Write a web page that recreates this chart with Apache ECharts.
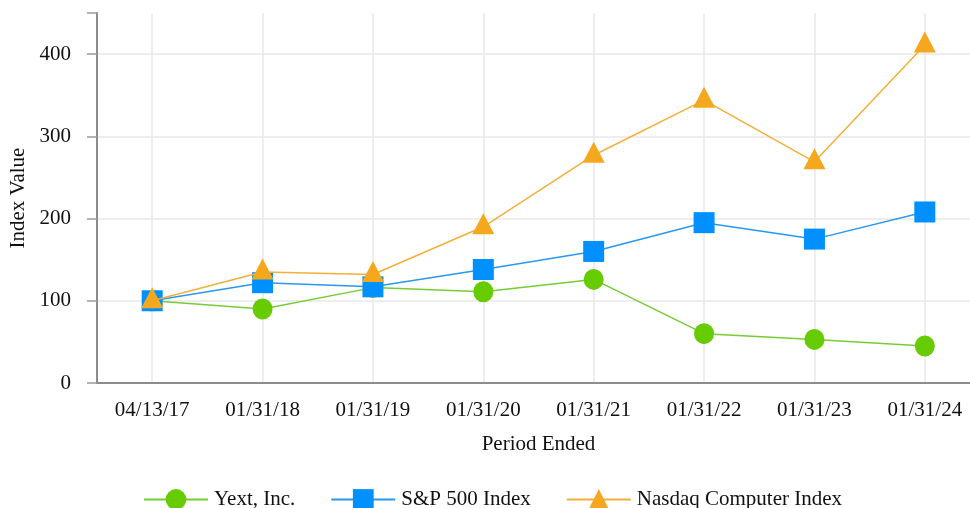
<!DOCTYPE html>
<html>
<head>
<meta charset="utf-8">
<script src="https://cdn.jsdelivr.net/npm/echarts@6/dist/echarts.min.js"></script>
<style>html,body{margin:0;padding:0;background:#fff}#c{width:970px;height:508px}</style>
</head>
<body>
<div id="c"></div>
<script>
const categories = ['04/13/17','01/31/18','01/31/19','01/31/20','01/31/21','01/31/22','01/31/23','01/31/24'];
const yextValues = [100, 90, 116, 111, 126, 60, 53, 45];
const spValues = [100, 122, 117, 138, 160, 195, 175, 208];
const nasdaqValues = [100, 135, 132, 190, 277, 344, 269, 411];
const yTickLabels = ['0','100','200','300','400'];
const seriesNames = ['Yext, Inc.', 'S&P 500 Index', 'Nasdaq Computer Index'];

const font = 'Liberation Serif';
const chart = echarts.init(document.getElementById('c'));
chart.setOption({
  animation: false,
  textStyle: {fontFamily: font},
  grid: {left: 97, width: 883, top: 13, height: 370, containLabel: false, outerBoundsMode: 'none'},
  legend: {
    data: seriesNames,
    left: 138, top: 484,
    itemWidth: 64, itemHeight: 26, itemGap: 35,
    textStyle: {fontFamily: font, fontSize: 21, color: '#111', padding: [0, 0, 0, 1]}
  },
  xAxis: {
    type: 'category',
    data: categories,
    boundaryGap: true,
    name: 'Period Ended',
    nameLocation: 'middle',
    nameGap: 51,
    nameTextStyle: {fontFamily: font, fontSize: 21, color: '#111'},
    axisLine: {lineStyle: {color: '#8c8c8c', width: 2}},
    axisTick: {alignWithLabel: true, length: 10, lineStyle: {color: '#999', width: 1.5}},
    axisLabel: {fontFamily: font, fontSize: 21, color: '#111', margin: 17},
    splitLine: {show: true, alignWithLabel: true, lineStyle: {color: '#e8e8e8', width: 1.5}}
  },
  yAxis: {
    type: 'value',
    min: 0, max: 450, interval: 100,
    name: 'Index Value',
    nameLocation: 'middle',
    nameGap: 68,
    nameTextStyle: {fontFamily: font, fontSize: 21, color: '#111'},
    axisLine: {show: true, lineStyle: {color: '#8c8c8c', width: 2}},
    axisTick: {show: true, length: 10, lineStyle: {color: '#999', width: 1.5}},
    axisLabel: {fontFamily: font, fontSize: 21, color: '#111', margin: 26,
      formatter: v => { const s = String(v); return yTickLabels.indexOf(s) >= 0 ? s : ''; }},
    splitLine: {show: true, lineStyle: {color: ['#e8e8e8','#e8e8e8','#e8e8e8','#e8e8e8','#e8e8e8','rgba(0,0,0,0)'], width: 1.5}}
  },
  series: [
    {name: seriesNames[0], type: 'line', data: yextValues, symbol: 'circle', symbolSize: [20, 21],
     color: '#66cc00', lineStyle: {width: 1.5, color: '#77cc33'}, itemStyle: {color: '#66cc00'}, z: 2},
    {name: seriesNames[1], type: 'line', data: spValues, symbol: 'rect', symbolSize: 21,
     color: '#0090ff', lineStyle: {width: 1.5, color: '#2a98ee'}, itemStyle: {color: '#0090ff'}, z: 3},
    {name: seriesNames[2], type: 'line', data: nasdaqValues, symbol: 'triangle', symbolSize: [22, 21], symbolOffset: [0, -3],
     color: '#f5a81e', lineStyle: {width: 1.5, color: '#f2b03a'}, itemStyle: {color: '#f5a81e'}, z: 4}
  ]
});
</script>
</body>
</html>
